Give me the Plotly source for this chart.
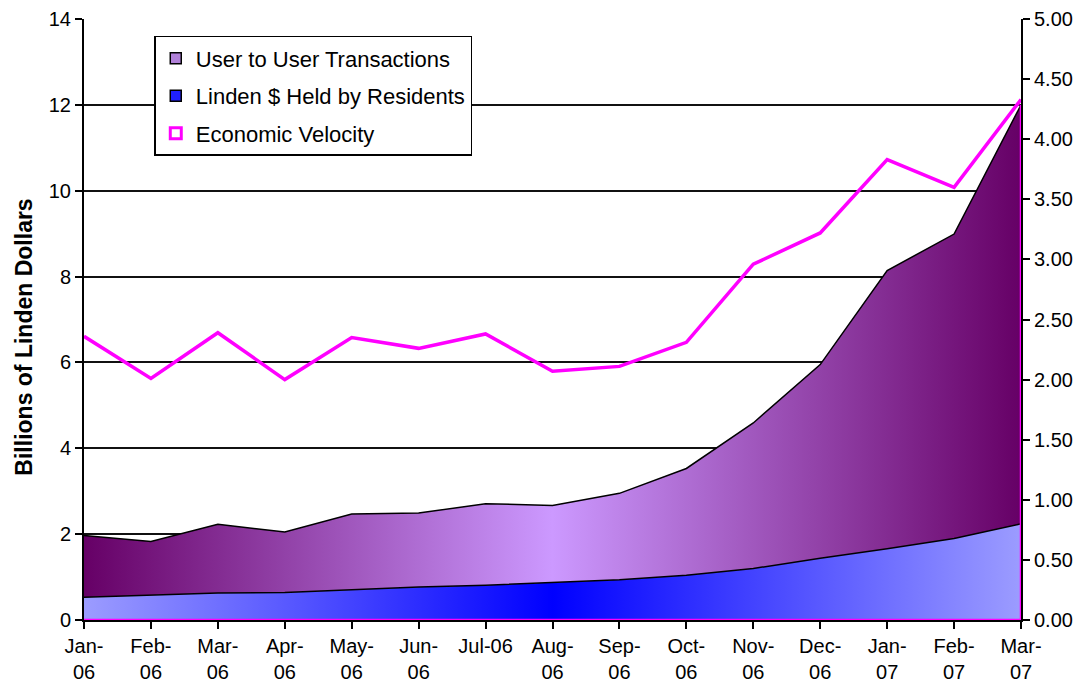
import plotly.graph_objects as go
import numpy as np

# ---------------- data ----------------
months = ["Jan-06", "Feb-06", "Mar-06", "Apr-06", "May-06", "Jun-06", "Jul-06",
          "Aug-06", "Sep-06", "Oct-06", "Nov-06", "Dec-06", "Jan-07", "Feb-07", "Mar-07"]
tick_labels = ["Jan-<br>06", "Feb-<br>06", "Mar-<br>06", "Apr-<br>06", "May-<br>06",
               "Jun-<br>06", "Jul-06", "Aug-<br>06", "Sep-<br>06", "Oct-<br>06",
               "Nov-<br>06", "Dec-<br>06", "Jan-<br>07", "Feb-<br>07", "Mar-<br>07"]

# billions of L$
linden_held = [0.53, 0.58, 0.63, 0.64, 0.70, 0.77, 0.81, 0.88, 0.94, 1.04,
               1.20, 1.44, 1.66, 1.90, 2.24]
user_transactions = [1.44, 1.25, 1.60, 1.41, 1.77, 1.72, 1.90, 1.79, 2.01, 2.49,
                     3.39, 4.51, 6.48, 7.09, 9.76]
# right axis
velocity = [2.36, 2.01, 2.39, 2.00, 2.35, 2.26, 2.38, 2.07, 2.11, 2.31,
            2.96, 3.22, 3.83, 3.60, 4.33]

left_ticks = [0, 2, 4, 6, 8, 10, 12, 14]
grid_vals = [2, 4, 6, 8, 10, 12]
right_ticks = [0, 0.5, 1, 1.5, 2, 2.5, 3, 3.5, 4, 4.5, 5]

# stacked totals
total = list(np.array(linden_held) + np.array(user_transactions))

FONT = "Arial, Liberation Sans, sans-serif"

fig = go.Figure()

# Linden $ held (bottom area)
fig.add_trace(go.Scatter(
    x=months, y=linden_held, mode="lines", fill="tozeroy",
    line=dict(color="black", width=1.5),
    fillgradient=dict(type="horizontal",
                      colorscale=[[0, "#9C9CFF"], [0.5, "#0000FF"], [1, "#9C9CFF"]]),
    showlegend=False, hoverinfo="skip"))

# User to user transactions stacked on top
fig.add_trace(go.Scatter(
    x=months, y=total, mode="lines", fill="tonexty",
    line=dict(color="black", width=1.5),
    fillgradient=dict(type="horizontal",
                      colorscale=[[0, "#660066"], [0.5, "#CC99FF"], [1, "#660066"]]),
    showlegend=False, hoverinfo="skip"))

# magenta outline along bottom and right edge of the area
fig.add_trace(go.Scatter(
    x=months + [months[-1]], y=[0] * len(months) + [total[-1]],
    mode="lines", line=dict(color="#FF00FF", width=2.5),
    showlegend=False, hoverinfo="skip"))

# Economic velocity on secondary axis
fig.add_trace(go.Scatter(
    x=months, y=velocity, mode="lines", yaxis="y2",
    line=dict(color="#FF00FF", width=3.5),
    showlegend=False))

# legend entries
fig.add_trace(go.Scatter(
    x=[None], y=[None], mode="markers", name="User to User Transactions",
    legendgroup="a",
    marker=dict(symbol="square", size=11, color="#B080D8",
                line=dict(color="black", width=1.5))))
fig.add_trace(go.Scatter(
    x=[None], y=[None], mode="markers", name="Linden $ Held by Residents",
    legendgroup="b",
    marker=dict(symbol="square", size=11, color="#2020FF",
                line=dict(color="black", width=1.5))))
fig.add_trace(go.Scatter(
    x=[None], y=[None], mode="markers", name="Economic Velocity",
    legendgroup="c",
    marker=dict(symbol="square-open", size=11, color="#FF00FF",
                line=dict(color="#FF00FF", width=3))))

# page body has an 8px default margin; size the figure to fit the window
fig.update_layout(
    width=1081, height=684,
    margin=dict(l=76, r=68, t=11, b=72),
    paper_bgcolor="white", plot_bgcolor="white",
    font=dict(family=FONT, size=20, color="black"),
    xaxis=dict(
        type="category", categoryorder="array", categoryarray=months,
        range=[0, len(months) - 1], automargin=False,
        tickmode="array", tickvals=months, ticktext=tick_labels,
        showline=True, linecolor="black", linewidth=2,
        ticks="outside", ticklen=7, tickwidth=2, tickcolor="black",
        showgrid=False, zeroline=False,
        tickfont=dict(size=20),
    ),
    yaxis=dict(
        range=[0, 14], tickmode="array", tickvals=left_ticks, automargin=False,
        showline=True, linecolor="black", linewidth=2,
        ticks="outside", ticklen=7, tickwidth=2, tickcolor="black",
        showgrid=False, zeroline=False,
        minor=dict(tickmode="array", tickvals=grid_vals, showgrid=True,
                   gridcolor="#111111", gridwidth=1.5, ticks=""),
        tickfont=dict(size=20),
    ),
    yaxis2=dict(
        range=[0, 5], overlaying="y", side="right", automargin=False,
        tickmode="array", tickvals=right_ticks, tickformat=".2f",
        showline=True, linecolor="black", linewidth=2,
        ticks="outside", ticklen=7, tickwidth=2, tickcolor="black",
        showgrid=False, zeroline=False,
        tickfont=dict(size=20),
    ),
    legend=dict(
        x=0.075, y=0.972, xanchor="left", yanchor="top",
        bgcolor="white", bordercolor="black", borderwidth=1.5,
        font=dict(size=22), tracegroupgap=6, traceorder="grouped",
    ),
    annotations=[dict(
        text="<b>Billions of Linden Dollars</b>", textangle=-90,
        xref="paper", yref="paper", x=-0.065, y=0.47,
        xanchor="center", yanchor="middle", showarrow=False,
        font=dict(size=23, family=FONT, color="black"),
    )],
)

fig.write_html("out.html")
